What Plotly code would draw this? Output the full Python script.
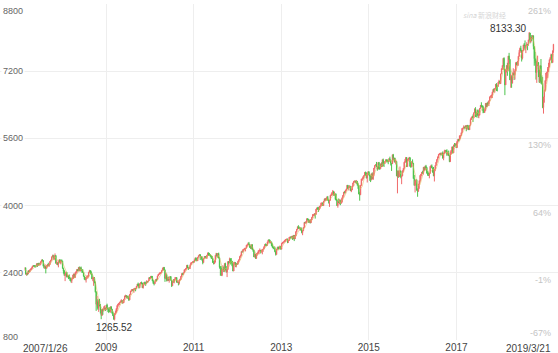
import pandas as pd
import plotly.graph_objects as go

# Weekly NASDAQ composite candles, 2007/1/26 .. 2019/3/21
first_open = 2451
close = [
    # 2007
    2435,2475,2460,2497,2515,2368,2387,2372,2448,2422,2471,2491,2516,2557,2572,2562,2558,2557,2613,2573,2627,2588,2603,2666,2707,2688,2562,2511,2544,2505,2576,2596,2566,2602,2671,2701,2780,2805,2726,2804,2811,2627,2637,2596,2661,2709,2636,2691,2674,
    # 2008
    2504,2440,2340,2360, 2414,2304,2321,2303,2271, 2212,2212,2258,2261, 2370,2290,2402,2422, 2476,2445,2528,2444,2523, 2474,2454,2406,2315, 2245,2239,2282,2310, 2310,2414,2452,2414,2368, 2255,2261,2273,2183, 1947,1649,1711,1552,1721, 1647,1516,1384,1536, 1509,1540,1564,1530,
    # 2009
    1632,1571,1530,1477,1476, 1591,1534,1441,1378, 1293,1431,1457,1545, 1622,1653,1673,1694, 1719,1739,1680,1692,1774, 1849,1858,1827,1838, 1797,1756,1886,1966,1979, 2000,1985,2021,2028, 2019,2080,2132,2090, 2048,2139,2156,2154,2045, 2112,2167,2147,2138, 2194,2190,2212,2285,
    # 2010
    2269,2317,2288,2205,2147, 2141,2183,2243,2238, 2326,2368,2374,2395, 2403,2454,2481,2531,2461, 2265,2347,2229,2257, 2219,2244,2309,2223, 2091,2196,2179,2245,2255, 2288,2173,2179,2153, 2233,2242,2316,2381, 2371,2402,2469,2479,2507, 2579,2518,2518,2535, 2592,2637,2642,2665,2653,
    # 2011
    2703,2755,2689,2687, 2769,2809,2834,2781, 2784,2715,2643,2743, 2790,2780,2764,2820,2874, 2828,2828,2803,2796, 2733,2644,2616,2652, 2816,2859,2789,2858,2756, 2532,2507,2341,2480, 2480,2467,2622,2483,2415, 2479,2667,2637,2737, 2686,2678,2572,2441, 2626,2646,2555,2618,2605,
    # 2012
    2674,2710,2787,2816, 2905,2903,2952,2963, 2977,2988,3056,3068,3092, 3081,3011,3000,3069, 2956,2934,2778,2838, 2747,2858,2872,2892,2935, 2937,2908,2925,2958, 2967,3021,3076,3070,3067, 3136,3183,3180,3116, 3136,3044,3005,2987, 2982,2904,2837,2967,3010, 2979,2972,3021,2961,
    # 2013
    3101,3125,3135,3150, 3179,3194,3198,3161, 3170,3244,3249,3245,3268, 3204,3294,3207,3280, 3378,3437,3499,3459,3456, 3469,3423,3357,3403, 3479,3600,3587,3613, 3689,3660,3602,3657,3590, 3660,3722,3774,3781, 3807,3791,3915,3943, 3922,3919,3985,3991,4060, 4062,4001,4104,4157,
    # 2014
    4131,4175,4197,4128,4104, 4126,4244,4263,4308, 4336,4245,4276,4155, 4127,3999,4095,4075, 4123,4071,4090,4185,4243, 4321,4310,4368,4398, 4486,4416,4432,4449, 4353,4371,4465,4539,4580, 4583,4568,4580,4512, 4476,4276,4258,4483,4631, 4633,4688,4713,4792, 4781,4654,4765,4807,
    # 2015
    4727,4704,4634,4758,4635, 4744,4893,4956,4964, 4927,4872,5026,4891, 4886,4996,4932,5092, 5005,5003,5048,5090,5070, 5068,5051,5117,5080, 5009,4997,5210,5088,5128, 5044,5048,4706,4828, 4683,4822,4827,4687, 4707,4830,4886,5031,5054, 5147,4927,5105,5127, 5142,4933,4923,5048,
    # 2016
    5007,4644,4488,4591,4614, 4364,4338,4504,4590, 4718,4748,4796,4774, 4915,4851,4938,4906,4775, 4737,4718,4770,4934, 4943,4895,4801,4708, 4863,4957,5029,5100,5162, 5221,5233,5238,5219, 5250,5126,5245,5306,5312, 5292,5214,5257,5190, 5046,5237,5321,5399, 5255,5444,5437,5463,5383,
    # 2017
    5521,5574,5555,5661, 5667,5734,5839,5845, 5870,5861,5901,5829,5912, 5878,5805,5910,6048, 6101,6121,6084,6210, 6306,6208,6151,6265,6140, 6153,6312,6388,6374, 6352,6256,6217,6265, 6435,6360,6448,6427,6496, 6590,6606,6629,6701, 6764,6751,6783,6890, 6848,6840,6937,6960,6903,
    # 2018
    7136,7261,7336,7506, 7241,6874,7239,7337, 7258,7560,7482,6993,7063, 6915,7107,7146,7120, 7209,7403,7354,7434, 7554,7646,7746,7692,7510, 7688,7826,7820,7737, 7812,7839,7816,7945,8110, 7903,8010,7987,8046, 7788,7497,7449,7167, 7357,7407,7248,6939,7331, 6969,6911,6333,6584,
    # 2019
    6739,6971,7157,7165, 7264,7298,7472,7527, 7595,7408,7688,7838,
]
high = [
    2460,2490,2490,2505,2531,2530,2400,2410,2455,2460,2478,2500,2525,2565,2580,2585,2580,2575,2625,2634,2632,2640,2625,2670,2712,2724,2700,2590,2600,2560,2580,2610,2640,2610,2680,2710,2785,2830,2830,2810,2861,2815,2690,2650,2690,2720,2720,2695,2720,
    2690,2520,2470,2380, 2430,2415,2360,2340,2360, 2280,2290,2270,2350, 2380,2375,2410,2435, 2485,2490,2535,2550,2530, 2550,2480,2490,2410, 2330,2300,2300,2340, 2340,2420,2470,2460,2450, 2390,2300,2300,2300, 2190,1960,1850,1770,1760, 1780,1650,1520,1540, 1540,1600,1620,1570,
    1635,1665,1580,1560,1580, 1600,1600,1540,1480, 1400,1435,1500,1560, 1625,1660,1680,1710, 1740,1770,1740,1740,1776, 1855,1878,1862,1850, 1860,1805,1890,1970,2010, 2015,2010,2025,2040, 2040,2085,2135,2167, 2140,2145,2180,2190,2165, 2120,2175,2190,2185, 2220,2200,2215,2290,
    2295,2320,2325,2325,2230, 2200,2190,2245,2260, 2330,2370,2385,2420, 2410,2456,2520,2535,2535, 2480,2400,2380,2300, 2310,2250,2320,2320, 2230,2200,2250,2250,2300, 2300,2290,2220,2190, 2235,2260,2320,2385, 2400,2405,2480,2490,2515, 2585,2590,2535,2545, 2595,2645,2650,2670,2675,
    2720,2760,2765,2740, 2775,2812,2840,2835, 2800,2790,2730,2745, 2800,2800,2785,2825,2880, 2887,2870,2840,2805, 2800,2740,2680,2700, 2820,2875,2860,2870,2880, 2770,2560,2560,2485, 2580,2550,2625,2640,2560, 2490,2670,2680,2760, 2740,2750,2680,2580, 2660,2660,2650,2625,2635,
    2685,2715,2790,2830, 2910,2930,2960,2970, 2995,2990,3060,3085,3120, 3135,3085,3050,3075, 3080,2960,2940,2860, 2850,2860,2880,2930,2940, 2980,2945,2950,2965, 2975,3025,3080,3100,3080, 3140,3185,3197,3185, 3150,3140,3100,3030, 3030,3020,2925,2970,3020, 3020,3030,3050,3030,
    3110,3130,3140,3165, 3185,3200,3215,3215, 3180,3250,3260,3265,3275, 3280,3300,3295,3285, 3390,3440,3500,3532,3500, 3475,3475,3475,3410, 3485,3605,3615,3625, 3690,3700,3685,3665,3670, 3680,3730,3800,3795, 3820,3810,3920,3950, 3970,3965,3990,4000,4070, 4070,4075,4110,4170,
    4177,4185,4220,4230,4150, 4130,4250,4285,4320, 4372,4340,4330,4290, 4285,4140,4100,4170, 4150,4140,4150,4190,4250, 4325,4345,4370,4400, 4490,4490,4460,4485, 4470,4400,4470,4545,4580, 4600,4595,4610,4580, 4540,4490,4330,4490,4640, 4650,4690,4720,4795, 4810,4785,4770,4815,
    4815,4760,4715,4765,4790, 4780,4895,4960,4990, 5040,4935,5030,5040, 4925,5000,5030,5100, 5120,5040,5060,5100,5100, 5100,5090,5130,5165, 5090,5010,5215,5231,5140, 5140,5090,5060,4830, 4830,4830,4930,4830, 4710,4840,4890,5040,5110, 5150,5150,5110,5130, 5160,5145,5040,5050,
    5100,4990,4730,4600,4620, 4620,4410,4520,4600, 4725,4750,4800,4830, 4920,4920,4950,4970,4920, 4820,4790,4780,4940, 4970,4980,4900,4920, 4870,4960,5040,5100,5165, 5225,5250,5260,5260, 5260,5290,5260,5330,5320, 5330,5340,5270,5310, 5200,5290,5325,5400, 5400,5450,5490,5480,5490,
    5535,5580,5590,5670, 5675,5740,5840,5850, 5910,5880,5910,5910,5920, 5920,5890,5915,6075, 6105,6130,6170,6215, 6310,6342,6230,6280,6290, 6175,6320,6390,6460, 6390,6380,6340,6310, 6440,6440,6455,6480,6500, 6595,6620,6640,6710, 6770,6795,6800,6895, 6915,6860,6945,6995,6970,
    7140,7265,7340,7510, 7530,7260,7245,7340, 7400,7565,7637,7480,7130, 7100,7170,7270,7170, 7250,7410,7420,7440, 7560,7700,7760,7806,7700, 7700,7830,7870,7933, 7820,7890,7850,7950,8133.30, 8110,8020,8060,8060, 8048,7790,7660,7500, 7450,7570,7400,7250,7340, 7490,7100,7060,6590,
    6760,6990,7160,7190, 7300,7400,7480,7530, 7620,7600,7690,7850,
]
low = [
    2420,2425,2455,2450,2490,2360,2331,2340,2365,2405,2415,2455,2470,2500,2540,2535,2530,2525,2550,2540,2565,2580,2570,2595,2645,2670,2550,2505,2500,2386,2495,2530,2560,2545,2590,2660,2695,2770,2720,2700,2780,2620,2590,2580,2530,2640,2620,2600,2660,
    2500,2380,2330,2202, 2320,2290,2290,2250,2265, 2210,2170,2155,2255, 2260,2285,2280,2370, 2390,2440,2440,2440,2430, 2470,2400,2400,2310, 2235,2220,2168,2270, 2260,2290,2400,2370,2360, 2250,2200,2090,2150, 1930,1493,1600,1520,1470, 1600,1430,1295,1380, 1400,1480,1520,1490,
    1510,1565,1465,1440,1470, 1450,1515,1425,1375, 1300,1265.52,1400,1450, 1490,1580,1620,1630, 1680,1700,1665,1670,1680, 1770,1820,1800,1780, 1795,1730,1750,1880,1950, 1965,1950,1925,1995, 1960,2010,2070,2085, 2025,2040,2120,2130,2040, 2025,2100,2130,2090, 2130,2160,2170,2210,
    2265,2280,2280,2200,2140, 2100,2130,2180,2200, 2230,2320,2350,2360, 2380,2400,2450,2460,2455, 2185,2260,2195,2200, 2210,2165,2240,2215, 2061,2090,2170,2150,2220, 2250,2170,2160,2100, 2120,2210,2240,2300, 2345,2350,2395,2430,2470, 2490,2510,2470,2490, 2490,2585,2620,2640,2645,
    2650,2690,2680,2680, 2680,2765,2800,2705, 2735,2690,2603,2640, 2735,2760,2740,2730,2815, 2800,2810,2770,2740, 2730,2640,2600,2610, 2650,2810,2760,2760,2740, 2500,2331,2325,2320, 2470,2420,2420,2455,2410, 2298,2475,2600,2630, 2600,2620,2555,2440, 2440,2590,2535,2530,2590,
    2600,2660,2700,2760, 2790,2880,2885,2935, 2940,2910,2980,3020,3050, 3070,2990,2970,2960, 2950,2900,2775,2765, 2730,2730,2810,2850,2840, 2920,2860,2880,2840, 2900,2960,3010,3040,3035, 3040,3110,3160,3100, 3100,3035,3000,2960, 2970,2890,2810,2830,2950, 2950,2965,2970,2955,
    2960,3080,3095,3115, 3130,3140,3180,3105, 3110,3160,3230,3200,3230, 3185,3200,3155,3205, 3270,3370,3430,3450,3440, 3400,3410,3340,3295, 3400,3475,3580,3565, 3590,3650,3595,3595,3575, 3590,3655,3710,3755, 3750,3690,3785,3890, 3900,3850,3890,3930,3985, 4000,3995,3990,4100,
    4120,4110,4140,4120,4050, 3970,4120,4225,4240, 4250,4240,4240,4130, 4120,3990,3950,4060, 4030,4010,4040,4070,4180, 4220,4290,4290,4340, 4395,4390,4360,4420, 4350,4320,4370,4460,4530, 4550,4540,4520,4480, 4400,4270,4117,4250,4470, 4590,4620,4660,4700, 4710,4650,4550,4750,
    4720,4590,4560,4600,4630, 4610,4700,4880,4940, 4920,4830,4860,4860, 4850,4870,4920,4930, 4940,4920,4990,5040,5030, 5030,4985,5040,5070, 4955,4825,4990,5080,5030, 5020,4980,4700,4292, 4660,4680,4800,4650, 4510,4700,4790,4860,5010, 5030,4920,4925,5070, 5040,4930,4900,4930,
    5000,4640,4470,4313,4470, 4360,4210,4335,4400, 4550,4640,4700,4760, 4740,4830,4840,4890,4760, 4710,4710,4650,4760, 4900,4890,4780,4700, 4574,4820,4950,5020,5080, 5130,5200,5200,5190, 5200,5125,5080,5230,5250, 5270,5180,5200,5180, 5035,5045,5220,5310, 5240,5255,5400,5430,5370,
    5370,5510,5530,5550, 5590,5660,5730,5800, 5830,5830,5840,5770,5800, 5840,5800,5800,5910, 6040,6090,5990,6080, 6200,6110,6100,6150,6090, 6080,6150,6310,6340, 6320,6200,6210,6210, 6260,6340,6360,6380,6370, 6500,6570,6560,6560, 6690,6700,6690,6780, 6730,6720,6830,6930,6900,
    6900,7130,7230,7320, 7230,6630,6870,7170, 7090,7200,7470,6990,6805, 6805,6910,7100,6990, 7000,7200,7340,7330, 7330,7550,7640,7680,7430, 7480,7680,7790,7700, 7630,7800,7700,7810,7940, 7860,7880,7920,7960, 7720,7330,7390,7000, 6922,7320,7060,6920,6930, 6900,6880,6320,6190,
    6450,6720,6900,7020, 7040,7180,7290,7450, 7470,7390,7400,7640,
]
y_ticks = [800, 2400, 4000, 5600, 7200, 8800]
x_ticks = ["2009-01-01", "2011-01-01", "2013-01-01", "2015-01-01", "2017-01-01"]
x_ticktext = ["2009", "2011", "2013", "2015", "2017"]
start_label, end_label = "2007/1/26", "2019/3/21"
low_point = ("2009-03-09", 1265.52)
high_point = ("2018-08-30", 8133.30)

n = min(len(close), len(high), len(low))
close, high, low = close[:n], high[:n], low[:n]
dates = list(pd.date_range("2007-01-26", periods=n, freq="W-FRI"))
dates[-1] = pd.Timestamp("2019-03-21")
open_ = [first_open] + close[:-1]

s = pd.Series(close)
ma5 = s.rolling(5).mean()

FONT = "Liberation Sans, Arial, sans-serif"
fig = go.Figure()
fig.add_trace(go.Candlestick(
    x=dates, open=open_, high=high, low=low, close=close,
    increasing=dict(line=dict(color="#f06a6a", width=1), fillcolor="#f06a6a"),
    decreasing=dict(line=dict(color="#4cc44c", width=1), fillcolor="#4cc44c"),
    whiskerwidth=0, showlegend=False, hoverinfo="skip"))
fig.add_trace(go.Scatter(x=dates, y=ma5, mode="lines",
                         line=dict(color="rgba(225,185,90,0.55)", width=1),
                         showlegend=False, hoverinfo="skip"))

annotations = []
for v in y_ticks:
    anchor, shift = "middle", 0
    if v == y_ticks[-1]:
        anchor = "top"
    elif v == y_ticks[0]:
        shift = 3
    annotations.append(dict(xref="paper", yref="y", x=0, y=v, xanchor="left",
                            yanchor=anchor, xshift=1, yshift=shift, text=str(v),
                            showarrow=False, bgcolor="white", borderpad=1,
                            font=dict(family=FONT, size=9, color="#666")))
base = close[0]
for v in y_ticks:
    if v == 7200:
        continue
    pct = round((v / base - 1) * 100)
    annotations.append(dict(xref="paper", yref="y", x=1, y=v, xanchor="right",
                            yanchor="bottom" if v == y_ticks[0] else "top", xshift=-5,
                            text=f"{pct}%", showarrow=False,
                            font=dict(family=FONT, size=9, color="#c4c4c4")))
annotations.append(dict(xref="x", yref="paper", x=dates[0], y=0, xanchor="left",
                        yanchor="top", yshift=-1, text=start_label, showarrow=False,
                        font=dict(family=FONT, size=10, color="#444")))
annotations.append(dict(xref="x", yref="paper", x=dates[-1], y=0, xanchor="right",
                        yanchor="top", yshift=-1, text=end_label, showarrow=False,
                        font=dict(family=FONT, size=10, color="#444")))
annotations.append(dict(xref="x", yref="y", x=low_point[0], y=low_point[1],
                        xanchor="center", yanchor="top", text=f"{low_point[1]:.2f}",
                        showarrow=False, font=dict(family=FONT, size=10, color="#333")))
annotations.append(dict(xref="x", yref="y", x=high_point[0], y=high_point[1],
                        xanchor="right", yanchor="bottom", yshift=-4,
                        text=f"{high_point[1]:.2f}",
                        showarrow=False, font=dict(family=FONT, size=10, color="#333")))
annotations.append(dict(xref="paper", yref="paper", x=0.868, y=0.968, xanchor="center",
                        yanchor="middle", text="<i>sina</i> 新浪财经", showarrow=False,
                        font=dict(family="Noto Sans CJK SC, " + FONT, size=7, color="#d6d6d6")))

fig.update_layout(
    width=558, height=353,
    margin=dict(l=0, r=0, t=4, b=13),
    paper_bgcolor="white", plot_bgcolor="white",
    annotations=annotations,
    xaxis=dict(type="date", range=["2006-07-31", "2019-04-28"],
               tickvals=x_ticks, ticktext=x_ticktext,
               showgrid=True, gridcolor="#eeeeee", gridwidth=1,
               showline=False, zeroline=False, ticks="",
               tickfont=dict(family=FONT, size=10, color="#444"),
               rangeslider=dict(visible=False), fixedrange=True),
    yaxis=dict(range=[800, 8800], tickvals=y_ticks, showticklabels=False,
               showgrid=True, gridcolor="#eeeeee", gridwidth=1,
               zeroline=False, showline=False, fixedrange=True),
)
fig.write_html("out.html", config={"displayModeBar": False})
